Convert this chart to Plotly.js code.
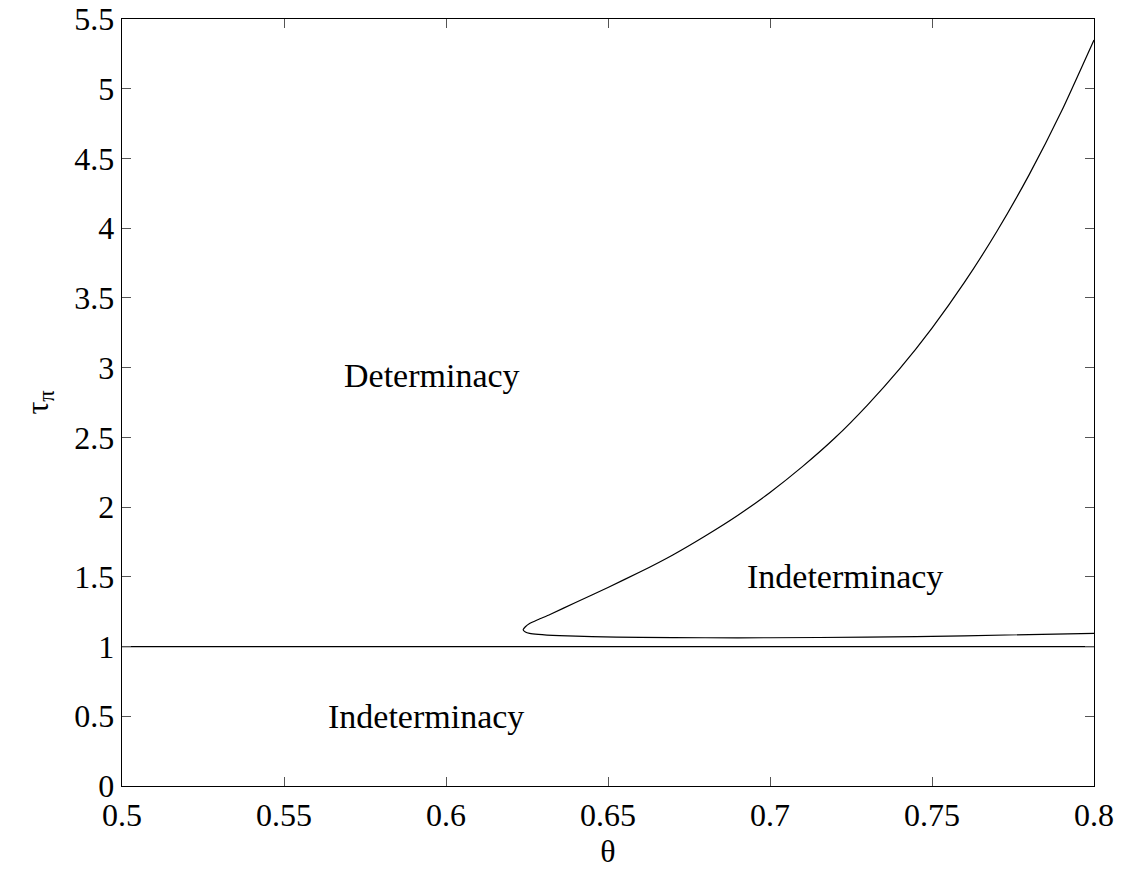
<!DOCTYPE html>
<html>
<head>
<meta charset="utf-8">
<script src="https://cdn.plot.ly/plotly-3.0.1.min.js"></script>
<style>html,body{margin:0;padding:0;background:#fff;}#chart{width:1127px;height:878px;}</style>
</head>
<body>
<div id="chart"></div>
<script>
// Upper branch of the boundary (from the tip up to the right edge)
const upperTheta = [0.6238, 0.6245, 0.6258, 0.6285, 0.6321, 0.64,  0.65,  0.66,  0.67,  0.68,  0.69,  0.70,  0.71,  0.72,  0.73,  0.74,  0.75,  0.76,  0.77,  0.78,  0.79,  0.80];
const upperTau   = [1.12,   1.142,  1.165,  1.194,  1.230,  1.316, 1.424, 1.536, 1.657, 1.793, 1.940, 2.105, 2.290, 2.495, 2.730, 2.991, 3.284, 3.611, 3.976, 4.384, 4.840, 5.35];
// Lower branch (from the tip to the right edge)
const lowerTheta = [0.6238, 0.6245, 0.6258, 0.6285, 0.635, 0.645, 0.66,  0.68,  0.70,  0.73,  0.76,  0.80];
const lowerTau   = [1.12,   1.105,  1.095,  1.087,  1.078, 1.071, 1.066, 1.063, 1.063, 1.067, 1.077, 1.095];
// Horizontal boundary tau = 1
const flatTheta = [0.5, 0.8];
const flatTau = [1, 1];
// Region labels
const labelText  = ["Determinacy", "Indeterminacy", "Indeterminacy"];
const labelTheta = [0.5956, 0.7231, 0.5938];
const labelTau   = [2.947, 1.499, 0.495];
const xTicks = [0.5, 0.55, 0.6, 0.65, 0.7, 0.75, 0.8];
const xTickText = ["0.5", "0.55", "0.6", "0.65", "0.7", "0.75", "0.8"];
const yTicks = [0, 0.5, 1, 1.5, 2, 2.5, 3, 3.5, 4, 4.5, 5, 5.5];
const yTickText = ["0", "0.5", "1", "1.5", "2", "2.5", "3", "3.5", "4", "4.5", "5", "5.5"];

const curveTheta = upperTheta.slice().reverse().concat(lowerTheta.slice(1));
const curveTau = upperTau.slice().reverse().concat(lowerTau.slice(1));

const serif = 'Liberation Serif, Times New Roman, Times, serif';

const traces = [
  {x: curveTheta, y: curveTau, mode: "lines", line: {color: "#000", width: 1.2, shape: "spline", smoothing: 0.5}, hoverinfo: "skip"},
  {x: flatTheta, y: flatTau, mode: "lines", line: {color: "#000", width: 1.2}, hoverinfo: "skip"}
];

const annotations = labelText.map((t, i) => ({
  x: labelTheta[i], y: labelTau[i], xref: "x", yref: "y", text: t, showarrow: false,
  font: {family: serif, size: 34, color: "#000"}
}));

const layout = {
  width: 1127, height: 878,
  margin: {l: 122, r: 33, t: 19, b: 92},
  paper_bgcolor: "#fff", plot_bgcolor: "#fff",
  showlegend: false,
  font: {family: serif, size: 32, color: "#000"},
  xaxis: {
    range: [0.5, 0.8], tickvals: xTicks, ticktext: xTickText,
    ticks: "inside", ticklen: 9, tickcolor: "#555", tickwidth: 1,
    showline: true, linecolor: "#000", linewidth: 1.3, mirror: "ticks",
    showgrid: false, zeroline: false,
    tickfont: {family: serif, size: 32, color: "#000"},
    title: {text: "θ", font: {family: serif, size: 32, color: "#000"}, standoff: 8}
  },
  yaxis: {
    range: [0, 5.5], tickvals: yTicks, ticktext: yTickText,
    ticks: "inside", ticklen: 9, tickcolor: "#555", tickwidth: 1,
    showline: true, linecolor: "#000", linewidth: 1.3, mirror: "ticks",
    showgrid: false, zeroline: false,
    tickfont: {family: serif, size: 32, color: "#000"},
    title: {text: "τ<sub>π</sub>", font: {family: serif, size: 32, color: "#000"}, standoff: 16}
  },
  annotations: annotations
};

Plotly.newPlot("chart", traces, layout, {staticPlot: true, displayModeBar: false});
</script>
</body>
</html>
